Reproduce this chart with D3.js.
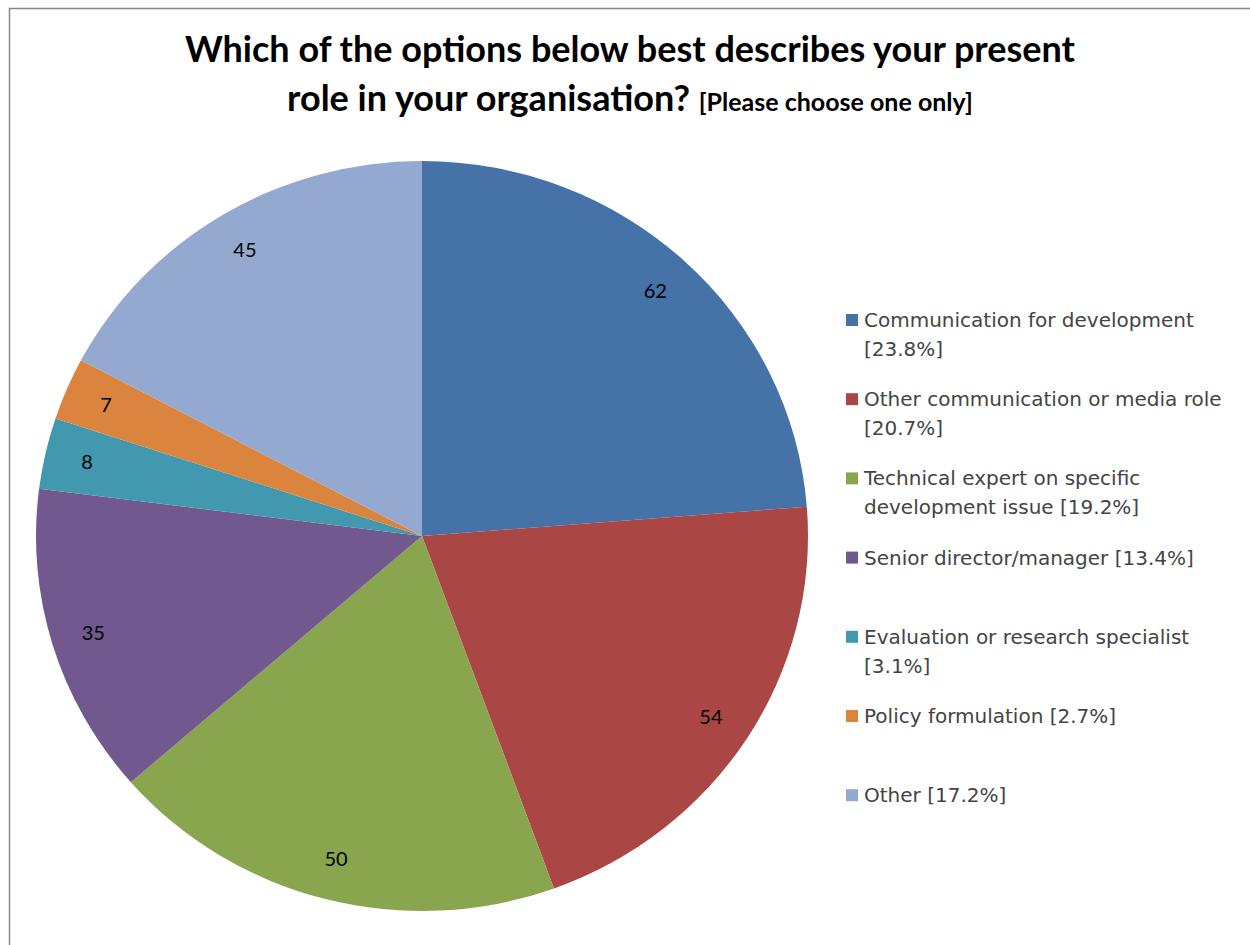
<!DOCTYPE html>
<html>
<head>
<meta charset="utf-8">
<script src="https://cdn.jsdelivr.net/npm/d3@7"></script>
<style>
  body { margin: 0; background: #fff; }
  svg { display: block; }
</style>
</head>
<body>
<div id="chart"></div>
<script>
// values, clockwise from 12 o'clock
const categories = ['Communication for development', 'Other communication or media role',
	'Technical expert on specific development issue', 'Senior director/manager',
	'Evaluation or research specialist', 'Policy formulation', 'Other'];
const counts = [62, 54, 50, 35, 8, 7, 45];
const colors = ['#4572A7', '#AA4643', '#89A54E', '#71588F', '#4198AF', '#DB843D', '#93A9CF'];
// how the legend text is broken over lines, {p} is the percent
const legendLines = [
	['Communication for development', '[{p}%]'],
	['Other communication or media role', '[{p}%]'],
	['Technical expert on specific', 'development issue [{p}%]'],
	['Senior director/manager [{p}%]'],
	['Evaluation or research specialist', '[{p}%]'],
	['Policy formulation [{p}%]'],
	['Other [{p}%]']
];
const titleLine1 = 'Which of the options below best describes your present';
const titleLine2 = 'role in your organisation? ';
const titleNote = '[Please choose one only]';

const width = 1250, height = 945;
const cx = 422, cy = 536, rx = 386, ry = 375;

const svg = d3.select('#chart').append('svg')
	.attr('width', width)
	.attr('height', height);

// chart area frame
svg.append('rect')
	.attr('x', 9.5).attr('y', 8.5)
	.attr('width', 1260).attr('height', 960)
	.attr('fill', '#fff')
	.attr('stroke', '#888').attr('stroke-width', 1.5);

// title
const title = svg.append('text')
	.attr('text-anchor', 'middle')
	.attr('font-family', 'Lato, "Open Sans", sans-serif')
	.attr('font-weight', 'bold')
	.attr('fill', '#000');
title.append('tspan').attr('x', 630).attr('y', 62).attr('font-size', 36).text(titleLine1);
const t2 = title.append('tspan').attr('x', 630).attr('y', 111);
t2.append('tspan').attr('font-size', 36).text(titleLine2);
t2.append('tspan').attr('font-size', 25).text(titleNote);

const total = d3.sum(counts);
const pie = d3.pie().sort(null).value(d => d)(counts);
const arc = d3.arc().innerRadius(0).outerRadius(rx);

// pie is a little wider than tall in the picture
const slices = svg.append('g')
	.attr('transform', `translate(${cx},${cy}) scale(1,${ry / rx})`);

slices.selectAll('path')
	.data(pie)
	.enter().append('path')
	.attr('d', arc)
	.attr('fill', (d, i) => colors[i]);

const labelArc = d3.arc().innerRadius(rx * 0.89).outerRadius(rx * 0.89);
svg.append('g')
	.selectAll('text')
	.data(pie)
	.enter().append('text')
	.attr('x', d => cx + labelArc.centroid(d)[0])
	.attr('y', d => cy + labelArc.centroid(d)[1] * ry / rx)
	.attr('dy', '0.35em')
	.attr('text-anchor', 'middle')
	.attr('font-family', 'Lato, sans-serif')
	.attr('font-size', 20)
	.attr('fill', '#000')
	.text(d => d.data);

// legend
const legend = svg.append('g')
	.attr('font-family', '"DejaVu Sans", sans-serif')
	.attr('font-size', 20)
	.attr('fill', '#444');

const item = legend.selectAll('g')
	.data(categories)
	.enter().append('g')
	.attr('transform', (d, i) => `translate(846,${320 + i * 79.2})`);

item.append('rect')
	.attr('x', 0).attr('y', -6)
	.attr('width', 12).attr('height', 12)
	.attr('fill', (d, i) => colors[i]);

item.each(function (d, i) {
	const pct = (counts[i] / total * 100).toFixed(1);
	d3.select(this).selectAll('text')
		.data(legendLines[i])
		.enter().append('text')
		.attr('x', 18)
		.attr('y', (l, j) => j * 29)
		.attr('dy', '0.35em')
		.text(l => l.replace('{p}', pct));
});
</script>
</body>
</html>
